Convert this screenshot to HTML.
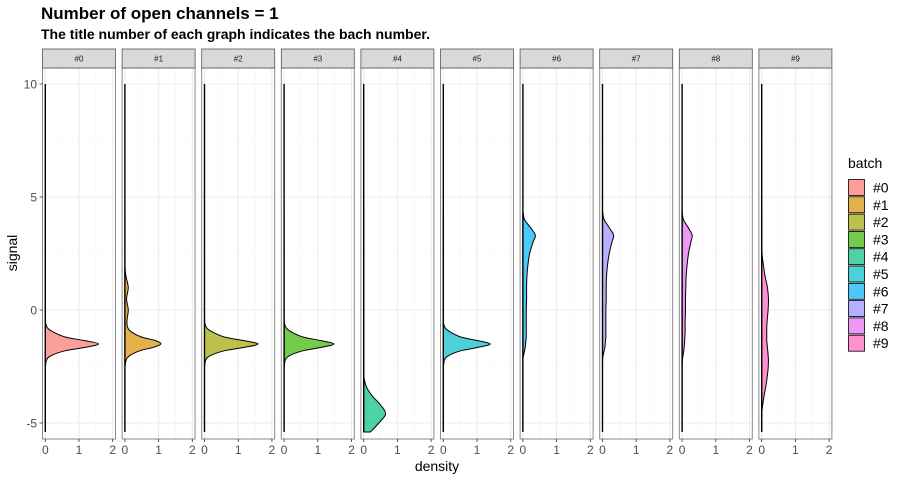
<!DOCTYPE html>
<html><head><meta charset="utf-8"><style>
body{margin:0;background:#fff;}
svg{display:block;font-family:"Liberation Sans",sans-serif;}
</style></head><body>
<svg id="chart" width="900" height="480" viewBox="0 0 900 480">
<text x="41" y="19" font-size="17" font-weight="bold" fill="#000">Number of open channels = 1</text>
<text x="41" y="39" font-size="14" font-weight="bold" fill="#000">The title number of each graph indicates the bach number.</text>
<text transform="translate(17,253) rotate(-90)" text-anchor="middle" font-size="14" fill="#000">signal</text>
<text x="437" y="471" text-anchor="middle" font-size="14" fill="#000">density</text>
<g id="panels"></g>
<g id="legend">
<text x="848" y="168" font-size="14" fill="#000">batch</text>
</g>
</svg>
<script>
const batches = ["#0","#1","#2","#3","#4","#5","#6","#7","#8","#9"];
const colors = ["#F8766D","#D89000","#A3A500","#39B600","#00BF7D","#00BFC4","#00B0F6","#9590FF","#E76BF3","#FF62BC"];
const signalGrid = [-5.4,-5,-4.6,-4.2,-3.8,-3.4,-3,-2.6,-2.2,-2,-1.8,-1.65,-1.5,-1.35,-1.2,-1,-0.8,-0.5,0,0.5,1,1.5,2,2.5,3,3.3,3.6,4,4.4];
const dens0 = [0,0,0,0,0,0,0,0,0.04,0.2,0.6,1.2,1.58,1.15,0.6,0.27,0.07,0,0,0,0,0,0,0,0,0,0,0,0];
const dens1 = [0,0,0,0,0,0,0,0,0.04,0.16,0.45,0.85,1.07,0.9,0.5,0.22,0.09,0.06,0.1,0.05,0.1,0.03,0,0,0,0,0,0,0];
const dens2 = [0,0,0,0,0,0,0,0,0.04,0.2,0.6,1.2,1.59,1.15,0.6,0.27,0.07,0,0,0,0,0,0,0,0,0,0,0,0];
const dens3 = [0,0,0,0,0,0,0,0,0.04,0.19,0.57,1.12,1.48,1.08,0.57,0.25,0.07,0,0,0,0,0,0,0,0,0,0,0,0];
const dens4 = [0.2,0.45,0.65,0.5,0.25,0.08,0.01,0,0,0,0,0,0,0,0,0,0,0,0,0,0,0,0,0,0,0,0,0,0];
const dens5 = [0,0,0,0,0,0,0,0,0.04,0.18,0.53,1.05,1.39,1.0,0.53,0.24,0.06,0,0,0,0,0,0,0,0,0,0,0,0];
const dens6 = [0,0,0,0,0,0,0,0,0,0.02,0.05,0.07,0.08,0.09,0.1,0.1,0.1,0.1,0.1,0.11,0.11,0.12,0.15,0.2,0.3,0.37,0.25,0.05,0];
const dens7 = [0,0,0,0,0,0,0,0,0,0.02,0.05,0.07,0.08,0.09,0.1,0.1,0.1,0.1,0.1,0.11,0.11,0.12,0.15,0.2,0.28,0.33,0.22,0.05,0];
const dens8 = [0,0,0,0,0,0,0,0,0.01,0.03,0.05,0.06,0.07,0.08,0.08,0.09,0.09,0.09,0.1,0.1,0.11,0.12,0.15,0.19,0.26,0.3,0.2,0.04,0];
const dens9 = [0,0,0,0.03,0.07,0.12,0.16,0.19,0.2,0.19,0.18,0.17,0.16,0.15,0.15,0.15,0.15,0.16,0.19,0.2,0.17,0.1,0.05,0.01,0,0,0,0,0];
const densities = [dens0,dens1,dens2,dens3,dens4,dens5,dens6,dens7,dens8,dens9];
const xTicks = [0,1,2];
const yTicks = [-5,0,5,10];

const NS="http://www.w3.org/2000/svg";
const panelsG=document.getElementById('panels');
const PL0=42.5, PW=73, PITCH=79.6, PT=68, PB=439, STRIPTOP=49;
const XMIN=-0.083, XMAX=2.083;
function yS(v){return 310-v*22.6;}
function xS(p,v){return PL0+p*PITCH+(v-XMIN)/(XMAX-XMIN)*PW;}
function mk(tag,attrs,parent){const e=document.createElementNS(NS,tag);for(const k in attrs)e.setAttribute(k,attrs[k]);parent.appendChild(e);return e;}

for(let p=0;p<batches.length;p++){
  const g=mk('g',{},panelsG);
  
  
  const L=PL0+p*PITCH;
  mk('rect',{x:L,y:PT,width:PW,height:PB-PT,fill:'#fff'},g);
  [0.5,1.5].forEach(v=>mk('line',{x1:xS(p,v),x2:xS(p,v),y1:PT,y2:PB,stroke:'#F4F4F4','stroke-width':0.6},g));
  [-2.5,2.5,7.5].forEach(v=>mk('line',{x1:L,x2:L+PW,y1:yS(v),y2:yS(v),stroke:'#F4F4F4','stroke-width':0.6},g));
  xTicks.forEach(v=>mk('line',{x1:xS(p,v),x2:xS(p,v),y1:PT,y2:PB,stroke:'#EBEBEB','stroke-width':1.1},g));
  yTicks.forEach(v=>mk('line',{x1:L,x2:L+PW,y1:yS(v),y2:yS(v),stroke:'#EBEBEB','stroke-width':1.1},g));
  const d=densities[p];
  const pts=signalGrid.map((s,i)=>[xS(p,Math.max(0,d[i])),yS(s)]);
  let path='M'+xS(p,0)+','+yS(signalGrid[0])+' L'+pts[0][0]+','+pts[0][1];
  for(let i=0;i<pts.length-1;i++){
    const p0=pts[Math.max(0,i-1)],p1=pts[i],p2=pts[i+1],p3=pts[Math.min(pts.length-1,i+2)];
    let c1x=p1[0]+(p2[0]-p0[0])/6,c2x=p2[0]-(p3[0]-p1[0])/6;
    const z=xS(p,0);c1x=Math.max(z,c1x);c2x=Math.max(z,c2x);
    path+=' C'+c1x+','+(p1[1]+(p2[1]-p0[1])/6)+' '+c2x+','+(p2[1]-(p3[1]-p1[1])/6)+' '+p2[0]+','+p2[1];
  }
  path+=' L'+xS(p,0)+','+yS(signalGrid[signalGrid.length-1])+' Z';
  const dp=mk('path',{d:path,fill:colors[p],'fill-opacity':0.7,stroke:'#000','stroke-width':1},g);
  
  
  const bl=mk('line',{x1:xS(p,0),x2:xS(p,0),y1:yS(10),y2:yS(-5.4),stroke:'#000','stroke-width':1.4},g);
  
  
  mk('rect',{x:L,y:PT,width:PW,height:PB-PT,fill:'none',stroke:'#8a8a8a','stroke-width':1},g);
  const st=mk('rect',{x:L,y:STRIPTOP,width:PW,height:PT-STRIPTOP,fill:'#D9D9D9',stroke:'#555','stroke-width':0.8},g);
  
  
  const stt=mk('text',{x:L+PW/2,y:61.5,'text-anchor':'middle','font-size':8,fill:'#1A1A1A'},g);
  stt.textContent=batches[p];
  
  
  xTicks.forEach(v=>{
    mk('line',{x1:xS(p,v),x2:xS(p,v),y1:PB,y2:PB+3,stroke:'#333','stroke-width':0.8},g);
    const t=mk('text',{x:xS(p,v),y:PB+15,'text-anchor':'middle','font-size':12,fill:'#4D4D4D'},g);
    t.textContent=v;
    
    
  });
}
yTicks.forEach(v=>{
  mk('line',{x1:39.5,x2:42.5,y1:yS(v),y2:yS(v),stroke:'#333','stroke-width':0.8},panelsG);
  const t=mk('text',{x:37,y:yS(v)+4.5,'text-anchor':'end','font-size':12,fill:'#4D4D4D'},panelsG);
  t.textContent=v;
  
  
});
const lg=document.getElementById('legend');
batches.forEach((b,i)=>{
  const y=179.5+i*17.3;
  const r=mk('rect',{x:848.5,y:y,width:16,height:16,fill:colors[i],'fill-opacity':0.7,stroke:'#000','stroke-width':0.8},lg);
  
  
  const t=mk('text',{x:873,y:y+13,'font-size':14,fill:'#000'},lg);
  t.textContent=b;
  
  
});
</script>
</body></html>
